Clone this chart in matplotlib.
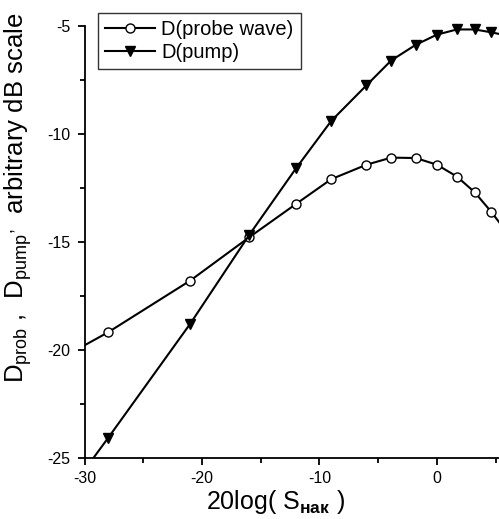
import numpy as np
import matplotlib.pyplot as plt
from matplotlib.ticker import MultipleLocator

plt.rcParams['font.family'] = ['Liberation Sans', 'DejaVu Sans']
plt.rcParams['mathtext.fontset'] = 'custom'
plt.rcParams['mathtext.rm'] = 'Liberation Sans'
plt.rcParams['mathtext.it'] = 'Liberation Sans'
plt.rcParams['mathtext.bf'] = 'Liberation Sans:bold'
plt.rcParams['axes.unicode_minus'] = False

# Data (points beyond the axes give the clipped line ends)
x_vals = [-35, -28, -21, -16, -12, -9, -6, -3.9, -1.8, 0, 1.7, 3.2, 4.6, 6.0]
d_probe = [-21.3, -19.2, -16.8, -14.8, -13.25, -12.1, -11.43, -11.1, -11.12,
           -11.43, -11.98, -12.7, -13.6, -14.6]
d_pump = [-29.3, -24.1, -18.8, -14.7, -11.6, -9.4, -7.75, -6.6, -5.87,
          -5.4, -5.16, -5.16, -5.29, -5.45]

x_ticks = [-30, -20, -10, 0]
y_ticks = [-5, -10, -15, -20, -25]

fig = plt.figure(figsize=(4.99, 5.19), dpi=100)
ax = fig.add_axes([84.5 / 499, 61.5 / 519, 1 - 84.5 / 499, 431.5 / 519 * 1.0075])

ax.plot(x_vals, d_probe, '-o', color='black', lw=1.5, ms=6.5,
        mfc='white', mec='black', mew=1.0, label='D(probe wave)')
ax.plot(x_vals, d_pump, '-v', color='black', lw=1.5, ms=7.5,
        mfc='black', mec='black', label='D(pump)')

ax.set_xlim(-30, 5.28)
ax.set_ylim(-25, -4.85)
ax.spines['top'].set_visible(False)
ax.spines['right'].set_visible(False)
ax.spines['left'].set_bounds(-25, -5)
for s in ('left', 'bottom'):
    ax.spines[s].set_linewidth(1.3)

ax.set_xticks(x_ticks)
ax.set_yticks(y_ticks)
ax.xaxis.set_minor_locator(MultipleLocator(5))
ax.yaxis.set_minor_locator(MultipleLocator(2.5))
ax.tick_params(which='major', direction='out', length=5, width=1.3,
               labelsize=11.5, pad=5)
ax.tick_params(which='minor', direction='out', length=3.5, width=1.3)

fig.text(275 / 499, 1 - 502 / 519, '20log( S$_{\\mathbf{нак}}$ )',
         fontsize=18, ha='center', va='center')
fig.text(18 / 499, 1 - 198 / 519,
         'D$_{\\mathrm{prob}}$ ,  D$_{\\mathrm{pump}}$$^{,}$  arbitrary dB scale',
         fontsize=18.5, rotation=90, ha='center', va='center')

leg = ax.legend(loc='upper left', bbox_to_anchor=(98 / 499, 1 - 13 / 519),
                bbox_transform=fig.transFigure, fontsize=14.5, frameon=True,
                fancybox=False, borderaxespad=0, borderpad=0.35,
                handlelength=2.5, handletextpad=0.3, labelspacing=0.2)
leg.get_frame().set_edgecolor('black')
leg.get_frame().set_linewidth(1.0)

plt.savefig('out.png', dpi=100)
